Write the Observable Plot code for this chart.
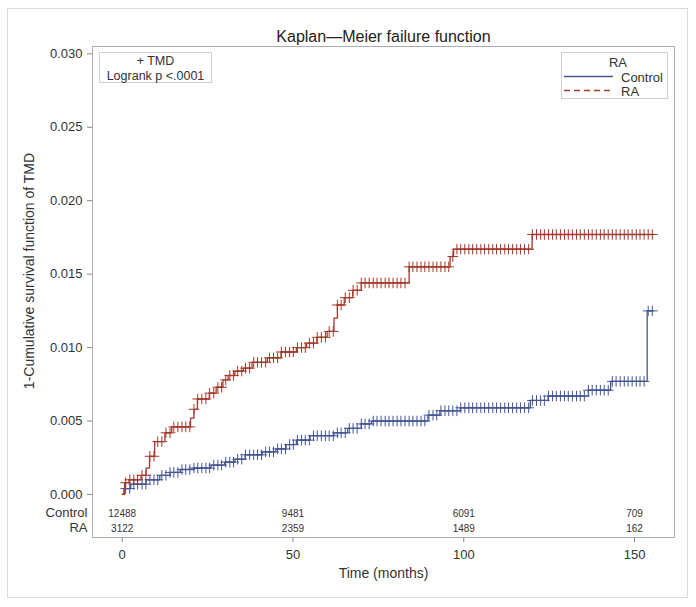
<!DOCTYPE html>
<html>
<head>
<meta charset="utf-8">
<script src="https://cdn.jsdelivr.net/npm/d3@7"></script>
<script src="https://cdn.jsdelivr.net/npm/@observablehq/plot@0.6"></script>
<style>
  body { margin: 0; background: #fff; }
  #chart svg { display: block; }
</style>
</head>
<body>
<div id="chart"></div>
<script>
// Kaplan-Meier failure steps (month where the step starts, cumulative failure)
const controlMonths  = [0, 0.5, 2.5, 7, 11, 14, 17, 21, 26, 30, 33, 36, 41, 45, 48, 51, 55, 62, 66, 70, 73, 89.5, 93, 99, 119.5, 124.7, 136.5, 143, 153.7, 155.5];
const controlFailure = [0, 0.0004, 0.0007, 0.001, 0.0013, 0.0015, 0.0017, 0.0018, 0.002, 0.0022, 0.0024, 0.0027, 0.0029, 0.0031, 0.0034, 0.0037, 0.004, 0.0042, 0.0045, 0.0048, 0.005, 0.0054, 0.0057, 0.0059, 0.0064, 0.0067, 0.0071, 0.0077, 0.0125, 0.0125];

const raMonths  = [0, 0.7, 2, 5.5, 7, 8, 9.5, 12.5, 14.5, 20, 21, 22, 25.5, 27.5, 29.5, 31, 33, 35.5, 38, 42.5, 46.5, 51, 54, 57, 60, 62, 63, 65, 67.5, 70, 84, 96, 97, 120, 155.5];
const raFailure = [0, 0.0008, 0.001, 0.0013, 0.0018, 0.0026, 0.0036, 0.0042, 0.0046, 0.0052, 0.0058, 0.0065, 0.0069, 0.0073, 0.0078, 0.0081, 0.0084, 0.0086, 0.009, 0.0093, 0.0097, 0.01, 0.0103, 0.0107, 0.0111, 0.012, 0.0129, 0.0134, 0.0139, 0.0144, 0.0155, 0.0162, 0.0167, 0.0177, 0.0177];

// censoring marks (months)
const censorMonths = [1, 2.2, 3.4, 4.5, 5.8, 6.9, 8.1, 9.3, 10.4, 11.6, 12.8, 14, 15.1, 16.3, 17.5, 18.6, 19.8, 21, 22.1, 23.3, 24.5, 25.6, 26.8, 28, 29.1, 30.3, 31.5, 32.6, 33.8, 35, 36.1, 37.3, 38.5, 39.6, 40.8, 42, 43.1, 44.3, 45.5, 46.6, 47.8, 49, 50.1, 51.3, 52.5, 53.6, 54.8, 56, 57.1, 58.3, 59.5, 60.6, 61.8, 63, 64.1, 65.3, 66.5, 67.6, 68.8, 70, 71.1, 72.3, 73.5, 74.6, 75.8, 77, 78.1, 79.3, 80.5, 81.6, 82.8, 84, 85.1, 86.3, 87.5, 88.6, 89.8, 91, 92.1, 93.3, 94.5, 95.6, 96.8, 98, 99.1, 100.3, 101.5, 102.6, 103.8, 105, 106.1, 107.3, 108.5, 109.6, 110.8, 112, 113.1, 114.3, 115.5, 116.6, 117.8, 119, 120.1, 121.3, 122.5, 123.6, 124.8, 126, 127.1, 128.3, 129.5, 130.6, 131.8, 133, 134.1, 135.3, 136.5, 137.6, 138.8, 140, 141.1, 142.3, 143.5, 144.6, 145.8, 147, 148.1, 149.3, 150.5, 151.6, 152.8, 154, 155.2];

// number at risk
const riskMonths = [0, 50, 100, 150];
const controlAtRisk = [12488, 9481, 6091, 709];
const raAtRisk = [3122, 2359, 1489, 162];

const yTicks = [0, 0.005, 0.01, 0.015, 0.02, 0.025, 0.03];
const xTicks = [0, 50, 100, 150];

const blue = "#445694";
const red = "#a23a2e";
const font = "'Liberation Sans', Arial, sans-serif";

const steps = (months, failure) => months.map((m, i) => ({month: m, failure: failure[i]}));
const controlSteps = steps(controlMonths, controlFailure);
const raSteps = steps(raMonths, raFailure);

// censor marks sit on the curve value at that month
const marksOn = (months, failure) => censorMonths
  .filter(m => m <= months[months.length - 1])
  .map(m => ({month: m, failure: failure[d3.bisectRight(months, m) - 1]}));

const controlCensor = marksOn(controlMonths, controlFailure);
const raCensor = marksOn(raMonths, raFailure);

const riskRows = riskMonths.map((m, i) => ({month: m, control: controlAtRisk[i], ra: raAtRisk[i]}));

const chart = Plot.plot({
  width: 696,
  height: 607,
  marginLeft: 92,
  marginRight: 22,
  marginTop: 46,
  marginBottom: 70,
  style: {fontFamily: font, fontSize: "13px", color: "#333", background: "#fff", overflow: "visible"},
  x: {domain: [-8.7, 161.7]},
  y: {domain: [-0.00293, 0.0305]},
  marks: [
    Plot.frame({stroke: "#a9b0b5"}),
    Plot.axisY({ticks: yTicks, tickFormat: d3.format(".3f"), tickSize: 5, tickPadding: 5, label: null, stroke: "#888", fill: "#333", fontSize: 13}),
    Plot.axisX({ticks: xTicks, tickSize: 5, tickPadding: 7, label: null, stroke: "#888", fill: "#333", fontSize: 13}),
    Plot.line(controlSteps, {x: "month", y: "failure", curve: "step-after", stroke: blue, strokeWidth: 1.3}),
    Plot.line(raSteps, {x: "month", y: "failure", curve: "step-after", stroke: red, strokeWidth: 1.3}),
    Plot.dot(controlCensor, {x: "month", y: "failure", symbol: "plus", r: 3.5, stroke: blue, strokeWidth: 1}),
    Plot.dot(raCensor, {x: "month", y: "failure", symbol: "plus", r: 3.5, stroke: red, strokeWidth: 1}),
    // at-risk table inside the frame
    Plot.text(riskRows, {x: "month", text: d => String(d.control), frameAnchor: "bottom", dy: -21, fontSize: 10, fill: "#333"}),
    Plot.text(riskRows, {x: "month", text: d => String(d.ra), frameAnchor: "bottom", dy: -6, fontSize: 10, fill: "#333"}),
    Plot.text(["Control"], {frameAnchor: "bottom-left", dx: -5, dy: -21, textAnchor: "end", fontSize: 13, fill: "#333"}),
    Plot.text(["RA"], {frameAnchor: "bottom-left", dx: -5, dy: -6, textAnchor: "end", fontSize: 13, fill: "#333"}),
    // titles
    Plot.text(["Kaplan\u2014Meier failure function"], {frameAnchor: "top", dy: -16, fontSize: 16, fill: "#222"}),
    Plot.text(["Time (months)"], {frameAnchor: "bottom", dy: 40, fontSize: 14, fill: "#333"}),
    Plot.text(["1-Cumulative survival function of TMD"], {frameAnchor: "left", textAnchor: "middle", rotate: -90, dx: -63, dy: -21, fontSize: 14, fill: "#333"})
  ]
});

d3.select("#chart").append(() => chart);

// outer border and the two inset boxes
const svg = d3.select(chart);
svg.insert("rect", ":first-child")
  .attr("x", 7.5).attr("y", 8.5).attr("width", 680).attr("height", 589)
  .attr("fill", "#fff").attr("stroke", "#dcdcdc");

const inset = svg.append("g").attr("font-family", font).attr("font-size", 12.5).attr("fill", "#333");
inset.append("rect").attr("x", 99.5).attr("y", 52.5).attr("width", 112).attr("height", 30)
  .attr("fill", "#fff").attr("stroke", "#cfcfcf");
inset.append("text").attr("x", 155.5).attr("y", 61).attr("dy", "0.35em").attr("text-anchor", "middle").text("+ TMD");
inset.append("text").attr("x", 155.5).attr("y", 75.5).attr("dy", "0.35em").attr("text-anchor", "middle").text("Logrank p <.0001");

const legend = svg.append("g").attr("font-family", font).attr("font-size", 13).attr("fill", "#333");
legend.append("rect").attr("x", 561.5).attr("y", 52.5).attr("width", 106).attr("height", 46)
  .attr("fill", "#fff").attr("stroke", "#cfcfcf");
legend.append("text").attr("x", 618).attr("y", 62).attr("dy", "0.35em").attr("text-anchor", "middle").text("RA");
legend.append("line").attr("x1", 564).attr("x2", 613).attr("y1", 76.5).attr("y2", 76.5)
  .attr("stroke", blue).attr("stroke-width", 1.3);
legend.append("text").attr("x", 621).attr("y", 77).attr("dy", "0.35em").attr("text-anchor", "start").text("Control");
legend.append("line").attr("x1", 564).attr("x2", 613).attr("y1", 90.5).attr("y2", 90.5)
  .attr("stroke", red).attr("stroke-width", 1.3).attr("stroke-dasharray", "6,4");
legend.append("text").attr("x", 621).attr("y", 91).attr("dy", "0.35em").attr("text-anchor", "start").text("RA");
</script>
</body>
</html>
